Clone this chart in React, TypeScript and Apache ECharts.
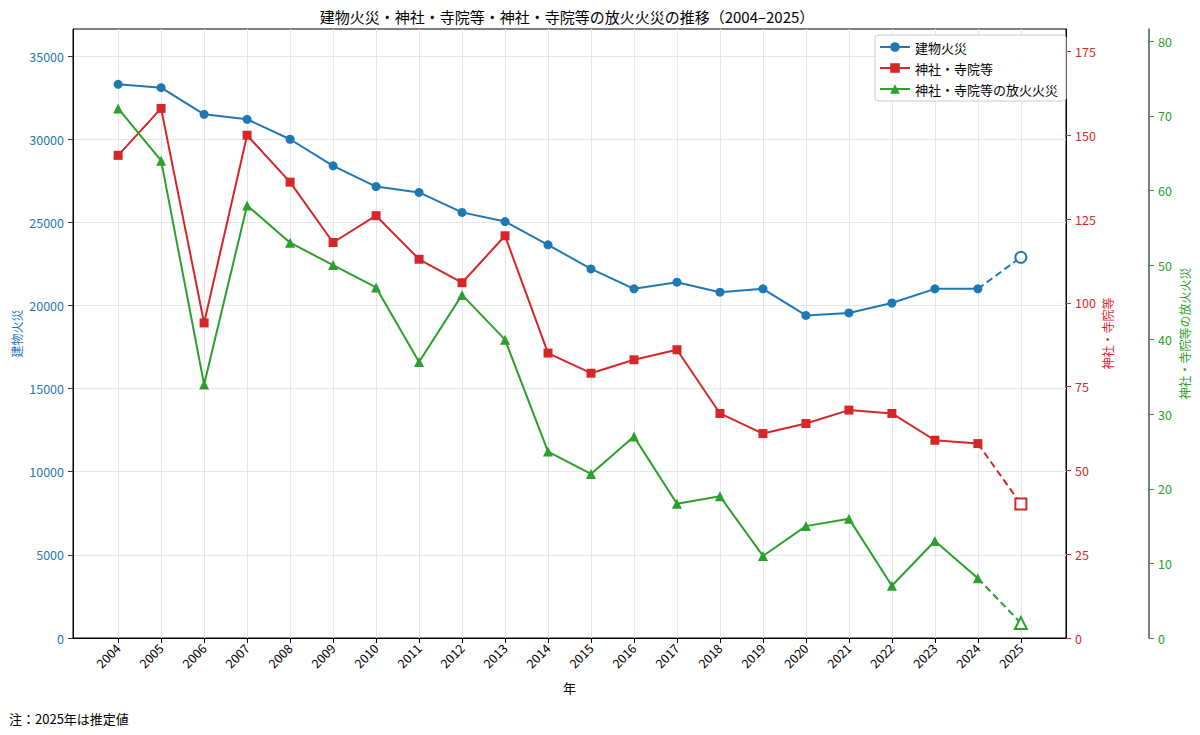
import React, { useEffect, useRef } from 'react';
import * as echarts from 'echarts';

const years = ['2004', '2005', '2006', '2007', '2008', '2009', '2010', '2011', '2012', '2013', '2014', '2015', '2016', '2017', '2018', '2019', '2020', '2021', '2022', '2023', '2024', '2025'];
const buildingFires = [33300, 33100, 31500, 31200, 30000, 28400, 27150, 26800, 25600, 25050, 23650, 22200, 21000, 21400, 20800, 21000, 19400, 19550, 20150, 21000, 21000, 22900];
const shrineFires = [144, 158, 94, 150, 136, 118, 126, 113, 106, 120, 85, 79, 83, 86, 67, 61, 64, 68, 67, 59, 58, 40];
const shrineArson = [71, 64, 34, 58, 53, 50, 47, 37, 46, 40, 25, 22, 27, 18, 19, 11, 15, 16, 7, 13, 8, 2];
const leftTicks = [0, 5000, 10000, 15000, 20000, 25000, 30000, 35000];
const redTicks = [0, 25, 50, 75, 100, 125, 150, 175];
const greenTicks = [0, 10, 20, 30, 40, 50, 60, 70, 80];

const NAMES = ['建物火災', '神社・寺院等', '神社・寺院等の放火火災'];
const TITLE = '建物火災・神社・寺院等・神社・寺院等の放火火災の推移（2004–2025）';
const NOTE = '注：2025年は推定値';

const BLUE = '#1f77b4';
const RED = '#d62728';
const GREEN = '#2ca02c';
const FONT = '"Noto Sans CJK JP", "Noto Sans", sans-serif';

function buildSeries(name: string, values: number[], yAxisIndex: number, color: string, symbol: string, size: number, hollowSize: number) {
  const last = values.length - 1;
  const solid = values.slice(0, last).map((v, i) => [i, v]);
  return [
    {
      name,
      type: 'line',
      yAxisIndex,
      data: solid,
      symbol,
      symbolSize: size,
      showSymbol: true,
      lineStyle: { color, width: 2 },
      itemStyle: { color },
      z: 3,
    },
    {
      name: name + '（推定）',
      type: 'line',
      yAxisIndex,
      data: [
        { value: [last - 1, values[last - 1]], symbol: 'none' },
        {
          value: [last, values[last]],
          symbol,
          symbolSize: hollowSize,
          itemStyle: { color: '#ffffff', borderColor: color, borderWidth: 2 },
        },
      ],
      symbol,
      showSymbol: true,
      lineStyle: { color, width: 2, type: [7, 4] },
      itemStyle: { color: '#ffffff', borderColor: color, borderWidth: 2 },
      z: 3,
    },
  ];
}

export default function App() {
  const ref = useRef<HTMLDivElement>(null);
  useEffect(() => {
    const chart = echarts.init(ref.current!, null, { renderer: 'svg' });
    const xIdx = years.map((_, i) => i);
    const plain = (v: number) => String(v);
    const option: any = {
      animation: false,
      backgroundColor: '#ffffff',
      textStyle: { fontFamily: FONT },
      grid: {
        left: 73,
        right: 134,
        top: 29,
        bottom: 97,
        containLabel: false,
        outerBoundsMode: 'none',
        show: true,
        borderColor: '#000000',
        borderWidth: 1,
        backgroundColor: 'transparent',
      },
      graphic: [
        {
          type: 'text',
          x: 567,
          y: 16,
          style: {
            text: TITLE,
            fill: '#000000',
            font: '15px ' + FONT,
            textAlign: 'center',
            align: 'center',
            textVerticalAlign: 'middle',
            verticalAlign: 'middle',
          },
        },
        {
          type: 'text',
          x: 9,
          y: 718,
          style: {
            text: NOTE,
            fill: '#000000',
            font: '13px ' + FONT,
            textAlign: 'left',
            align: 'left',
            textVerticalAlign: 'middle',
            verticalAlign: 'middle',
          },
        },
      ],
      legend: {
        data: NAMES,
        orient: 'vertical',
        left: 875,
        top: 35,
        padding: [5, 8, 5, 4],
        itemGap: 7,
        itemWidth: 30,
        itemHeight: 12,
        backgroundColor: 'rgba(255,255,255,0.85)',
        borderColor: '#cccccc',
        borderWidth: 1,
        borderRadius: 3,
        textStyle: { fontSize: 13, color: '#000000', fontFamily: FONT, lineHeight: 14 },
      },
      xAxis: {
        type: 'value',
        min: -1.05,
        max: 22.05,
        name: '年',
        nameLocation: 'middle',
        nameGap: 43,
        nameMoveOverlap: false,
        nameTextStyle: { fontSize: 13, color: '#000000', fontFamily: FONT },
        axisLine: { show: true, onZero: false, lineStyle: { color: '#000000', width: 1 } },
        axisTick: { show: true, length: 5, customValues: xIdx, lineStyle: { color: '#000000' } },
        axisLabel: {
          customValues: xIdx,
          rotate: 45,
          margin: 8,
          fontSize: 12.5,
          color: '#000000',
          fontFamily: FONT,
          formatter: (v: number) => years[Math.round(v)] ?? '',
        },
        splitLine: { show: true, lineStyle: { color: '#e6e6e6', width: 1 } },
      },
      yAxis: [
        {
          type: 'value',
          position: 'left',
          min: 0,
          max: 36630,
          name: NAMES[0],
          nameLocation: 'middle',
          nameRotate: 90,
          nameGap: 51,
          nameMoveOverlap: false,
          nameTextStyle: { fontSize: 12, color: BLUE, fontFamily: FONT },
          axisLine: { show: true, onZero: false, lineStyle: { color: '#000000', width: 1 } },
          axisTick: { show: true, length: 5, customValues: leftTicks, lineStyle: { color: '#333333' } },
          axisLabel: { customValues: leftTicks, margin: 9, fontSize: 12.5, color: BLUE, fontFamily: FONT, formatter: plain },
          splitLine: { show: true, lineStyle: { color: '#e6e6e6', width: 1 } },
        },
        {
          type: 'value',
          position: 'right',
          min: 0,
          max: 181.7,
          name: NAMES[1],
          nameLocation: 'middle',
          nameRotate: 90,
          nameGap: 35,
          nameMoveOverlap: false,
          nameTextStyle: { fontSize: 12, color: RED, fontFamily: FONT },
          axisLine: { show: true, onZero: false, lineStyle: { color: '#000000', width: 1 } },
          axisTick: { show: true, length: 5, customValues: redTicks, lineStyle: { color: RED } },
          axisLabel: { customValues: redTicks, margin: 9, fontSize: 12.5, color: RED, fontFamily: FONT, formatter: plain },
          splitLine: { show: false },
        },
        {
          type: 'value',
          position: 'right',
          offset: 83,
          min: 0,
          max: 81.65,
          name: NAMES[2],
          nameLocation: 'middle',
          nameRotate: 90,
          nameGap: 29,
          nameMoveOverlap: false,
          nameTextStyle: { fontSize: 12, color: GREEN, fontFamily: FONT },
          axisLine: { show: true, onZero: false, lineStyle: { color: '#555555', width: 1.5 } },
          axisTick: { show: true, length: 5, customValues: greenTicks, lineStyle: { color: GREEN } },
          axisLabel: { customValues: greenTicks, margin: 9, fontSize: 12.5, color: GREEN, fontFamily: FONT, formatter: plain },
          splitLine: { show: false },
        },
      ],
      series: [
        ...buildSeries(NAMES[0], buildingFires, 0, BLUE, 'circle', 9, 11),
        ...buildSeries(NAMES[1], shrineFires, 1, RED, 'rect', 9, 11),
        ...buildSeries(NAMES[2], shrineArson, 2, GREEN, 'triangle', 10, 12),
      ],
    };
    chart.setOption(option);
    return () => chart.dispose();
  }, []);
  return (
    <div
      ref={ref}
      style={{ position: 'fixed', left: 0, top: 0, width: 1200, height: 735, background: '#ffffff' }}
    />
  );
}
